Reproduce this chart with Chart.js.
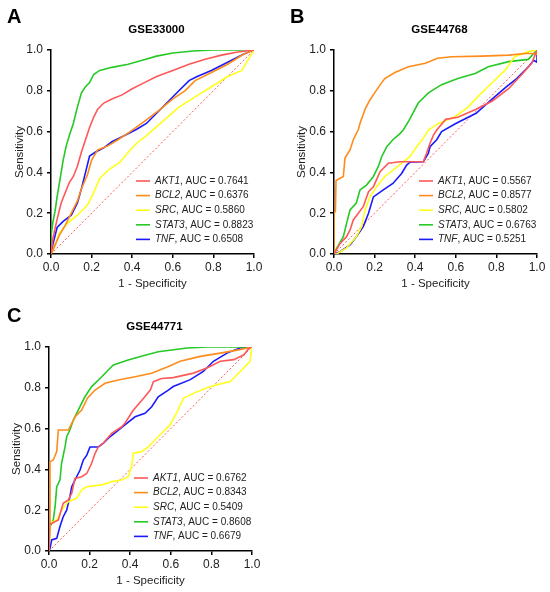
<!DOCTYPE html>
<html>
<head>
<meta charset="utf-8">
<script src="https://cdn.jsdelivr.net/npm/chart.js@4.4.1/dist/chart.umd.min.js"></script>
<style>
  html, body { margin: 0; padding: 0; background: #fff; }
  #wrap { position: relative; width: 550px; height: 592px; }
  canvas { position: absolute; }
</style>
</head>
<body>
<div id="wrap">
  <canvas id="chartA" width="275" height="295" style="left:0;top:0"></canvas>
  <canvas id="chartB" width="275" height="295" style="left:275px;top:0"></canvas>
  <canvas id="chartC" width="275" height="297" style="left:0;top:295px"></canvas>
</div>
<script>
// Genes, colours and ticks
const genes = ["AKT1", "BCL2", "SRC", "STAT3", "TNF"];
const colors = ["#FF5858", "#FF8C1A", "#FFFF1A", "#26C926", "#1A1AFF"];
const tickValues = [0, 0.2, 0.4, 0.6, 0.8, 1.0];
const tickLabels = ["0.0", "0.2", "0.4", "0.6", "0.8", "1.0"];
const diagonal = [[0, 0], [1, 1]];

// GSE33000
const titleA = "GSE33000";
const aucA = [0.7641, 0.6376, 0.5860, 0.8823, 0.6508];
const akt1A = [[0,0],[0.01,0.08],[0.03,0.17],[0.05,0.25],[0.07,0.3],[0.09,0.35],[0.11,0.38],[0.13,0.43],[0.15,0.5],[0.17,0.56],[0.19,0.62],[0.21,0.67],[0.23,0.71],[0.26,0.74],[0.3,0.76],[0.35,0.78],[0.4,0.81],[0.46,0.84],[0.52,0.87],[0.6,0.9],[0.68,0.93],[0.76,0.955],[0.84,0.975],[0.92,0.99],[1,1]];
const bcl2A = [[0,0],[0.01,0.02],[0.04,0.09],[0.07,0.14],[0.1,0.2],[0.13,0.26],[0.15,0.32],[0.18,0.39],[0.2,0.46],[0.23,0.51],[0.28,0.53],[0.33,0.56],[0.39,0.6],[0.46,0.65],[0.54,0.71],[0.6,0.76],[0.66,0.8],[0.71,0.85],[0.79,0.89],[0.87,0.93],[0.95,0.98],[1,1]];
const srcA = [[0,0],[0.02,0.04],[0.04,0.1],[0.08,0.15],[0.13,0.19],[0.18,0.24],[0.21,0.3],[0.24,0.37],[0.28,0.41],[0.34,0.45],[0.39,0.51],[0.43,0.55],[0.47,0.58],[0.55,0.65],[0.63,0.72],[0.71,0.77],[0.79,0.82],[0.87,0.87],[0.94,0.9],[0.97,0.95],[1,1]];
const stat3A = [[0,0],[0,0.09],[0.01,0.16],[0.02,0.21],[0.03,0.28],[0.045,0.37],[0.06,0.46],[0.075,0.53],[0.09,0.58],[0.11,0.64],[0.13,0.72],[0.15,0.79],[0.17,0.82],[0.19,0.84],[0.21,0.88],[0.24,0.9],[0.3,0.915],[0.38,0.93],[0.45,0.95],[0.52,0.97],[0.6,0.985],[0.7,0.995],[0.8,1],[1,1]];
const tnfA = [[0,0],[0.01,0.05],[0.03,0.13],[0.06,0.16],[0.1,0.19],[0.13,0.25],[0.15,0.32],[0.17,0.4],[0.19,0.48],[0.22,0.5],[0.26,0.52],[0.3,0.55],[0.36,0.58],[0.42,0.61],[0.47,0.64],[0.53,0.7],[0.58,0.75],[0.63,0.8],[0.68,0.85],[0.72,0.87],[0.79,0.9],[0.87,0.94],[0.95,0.98],[1,1]];

// GSE44768
const titleB = "GSE44768";
const aucB = [0.5567, 0.8577, 0.5802, 0.6763, 0.5251];
const akt1B = [[0,0],[0.03,0.052],[0.062,0.085],[0.079,0.118],[0.095,0.167],[0.144,0.232],[0.17,0.305],[0.194,0.33],[0.227,0.403],[0.268,0.445],[0.325,0.452],[0.44,0.452],[0.456,0.494],[0.473,0.543],[0.49,0.583],[0.506,0.608],[0.55,0.66],[0.61,0.67],[0.7,0.71],[0.78,0.75],[0.86,0.81],[0.925,0.88],[0.974,0.935],[1,1]];
const bcl2B = [[0,0],[0,0.2],[0.007,0.21],[0.01,0.36],[0.046,0.38],[0.054,0.47],[0.079,0.51],[0.095,0.56],[0.12,0.61],[0.128,0.64],[0.153,0.71],[0.177,0.755],[0.2,0.79],[0.235,0.84],[0.25,0.86],[0.3,0.89],[0.366,0.918],[0.45,0.935],[0.51,0.96],[0.58,0.967],[0.73,0.97],[0.86,0.975],[0.957,0.984],[1,0.98],[1,1]];
const srcB = [[0,0],[0.013,0],[0.062,0.03],[0.11,0.085],[0.136,0.134],[0.153,0.216],[0.177,0.28],[0.21,0.33],[0.25,0.38],[0.29,0.41],[0.333,0.445],[0.374,0.477],[0.407,0.526],[0.44,0.567],[0.465,0.608],[0.514,0.64],[0.596,0.673],[0.66,0.72],[0.727,0.79],[0.777,0.837],[0.842,0.9],[0.89,0.967],[0.957,0.992],[1,1]];
const stat3B = [[0,0],[0.013,0.028],[0.046,0.085],[0.062,0.15],[0.079,0.216],[0.11,0.25],[0.128,0.314],[0.16,0.338],[0.194,0.38],[0.218,0.428],[0.235,0.477],[0.26,0.526],[0.29,0.56],[0.325,0.59],[0.341,0.608],[0.37,0.655],[0.415,0.74],[0.465,0.79],[0.53,0.83],[0.61,0.86],[0.695,0.885],[0.76,0.918],[0.86,0.943],[0.957,0.954],[1,1]];
const tnfB = [[0,0],[0.03,0.011],[0.079,0.044],[0.11,0.085],[0.144,0.134],[0.17,0.2],[0.194,0.28],[0.243,0.314],[0.29,0.346],[0.333,0.395],[0.358,0.436],[0.374,0.45],[0.44,0.452],[0.465,0.494],[0.473,0.526],[0.506,0.56],[0.53,0.6],[0.6,0.64],[0.7,0.69],[0.78,0.76],[0.85,0.82],[0.9,0.86],[0.96,0.92],[0.984,0.95],[1,0.94],[1,1]];

// GSE44771
const titleC = "GSE44771";
const aucC = [0.6762, 0.8343, 0.5409, 0.8608, 0.6679];
const akt1C = [[0,0],[0,0.13],[0.013,0.135],[0.046,0.152],[0.07,0.234],[0.095,0.25],[0.112,0.283],[0.128,0.356],[0.161,0.364],[0.186,0.38],[0.21,0.43],[0.227,0.479],[0.243,0.51],[0.267,0.528],[0.309,0.577],[0.358,0.609],[0.374,0.626],[0.415,0.69],[0.465,0.748],[0.5,0.79],[0.514,0.83],[0.555,0.846],[0.612,0.85],[0.712,0.872],[0.778,0.897],[0.844,0.93],[0.91,0.938],[0.96,0.962],[0.99,1],[1,1]];
const bcl2C = [[0,0],[0.005,0.1],[0.005,0.438],[0.021,0.446],[0.038,0.487],[0.046,0.593],[0.095,0.593],[0.112,0.626],[0.13,0.66],[0.161,0.691],[0.19,0.75],[0.227,0.789],[0.276,0.822],[0.341,0.838],[0.424,0.854],[0.506,0.871],[0.588,0.904],[0.646,0.93],[0.745,0.954],[0.844,0.97],[0.94,0.987],[1,1]];
const srcC = [[0,0],[0.005,0.136],[0.038,0.152],[0.062,0.2],[0.095,0.242],[0.136,0.258],[0.161,0.3],[0.186,0.315],[0.26,0.324],[0.309,0.34],[0.358,0.348],[0.39,0.364],[0.407,0.413],[0.415,0.479],[0.456,0.487],[0.489,0.51],[0.522,0.544],[0.555,0.577],[0.596,0.618],[0.63,0.68],[0.663,0.75],[0.728,0.78],[0.778,0.8],[0.827,0.815],[0.893,0.831],[0.942,0.88],[0.99,0.93],[1,1]];
const stat3C = [[0,0],[0,0.11],[0.021,0.152],[0.03,0.217],[0.038,0.315],[0.054,0.348],[0.062,0.43],[0.079,0.51],[0.087,0.56],[0.103,0.593],[0.12,0.642],[0.144,0.691],[0.177,0.756],[0.21,0.806],[0.26,0.854],[0.292,0.887],[0.317,0.912],[0.39,0.936],[0.473,0.96],[0.538,0.977],[0.68,0.995],[0.78,1],[1,1]];
const tnfC = [[0,0],[0.005,0.013],[0.013,0.054],[0.038,0.062],[0.054,0.12],[0.07,0.168],[0.087,0.2],[0.103,0.266],[0.112,0.315],[0.128,0.348],[0.153,0.397],[0.169,0.446],[0.186,0.47],[0.202,0.51],[0.243,0.51],[0.267,0.528],[0.3,0.56],[0.333,0.585],[0.374,0.618],[0.424,0.658],[0.473,0.675],[0.506,0.707],[0.538,0.756],[0.588,0.789],[0.612,0.806],[0.696,0.84],[0.76,0.88],[0.81,0.93],[0.877,0.97],[0.94,0.995],[1,1]];

const family = '"Liberation Sans", Arial, Helvetica, sans-serif';
Chart.defaults.font.family = family;
Chart.defaults.color = "#222";

// Letra do painel, titulo e legenda com nome do gene em italico
const panelText = {
  id: "panelText",
  afterDraw(chart, args, opts) {
    const ctx = chart.ctx;
    const a = chart.chartArea;
    ctx.save();
    ctx.fillStyle = "#000";
    ctx.textAlign = "left";
    ctx.textBaseline = "alphabetic";
    ctx.font = "bold 20px " + family;
    ctx.fillText(opts.letter, opts.letterX, opts.letterY);

    ctx.textAlign = "center";
    ctx.textBaseline = "middle";
    ctx.font = "bold 11.5px " + family;
    ctx.fillText(opts.title, (a.left + a.right) / 2 + 4, a.top - 20);

    ctx.textAlign = "left";
    opts.auc.forEach(function (v, i) {
      const y = a.top + 131 + i * 14.6;
      ctx.strokeStyle = colors[i];
      ctx.lineWidth = 1.6;
      ctx.beginPath();
      ctx.moveTo(a.left + 85, y);
      ctx.lineTo(a.left + 99, y);
      ctx.stroke();
      let x = a.left + 104;
      ctx.fillStyle = "#222";
      ctx.font = "italic 10px " + family;
      ctx.fillText(genes[i], x, y);
      x += ctx.measureText(genes[i]).width;
      ctx.font = "10px " + family;
      ctx.fillText(", AUC = " + v.toFixed(4), x, y);
    });
    ctx.restore();
  }
};

function axis(pos, text, size, titlePad) {
  return {
    type: "linear",
    min: 0,
    max: 1,
    afterFit(s) {
      if (pos === "left") s.width = size; else s.height = size;
    },
    afterBuildTicks(s) {
      s.ticks = tickValues.map(v => ({ value: v }));
    },
    ticks: {
      autoSkip: false,
      maxRotation: 0,
      padding: pos === "left" ? 4 : 2,
      font: { size: 12 },
      color: "#222",
      callback: v => tickLabels[tickValues.indexOf(v)]
    },
    grid: { drawOnChartArea: false, drawTicks: true, tickLength: 4, color: "#000", lineWidth: 1.5 },
    border: { display: true, color: "#000", width: 1.5 },
    title: {
      display: true,
      text: text,
      font: { size: 11.5 },
      color: "#222",
      padding: pos === "left" ? { top: titlePad, bottom: 0 } : { top: 0, bottom: titlePad }
    }
  };
}

function makeChart(id, p) {
  const sets = p.curves.map((c, i) => ({
    label: genes[i],
    data: c,
    borderColor: colors[i],
    borderWidth: 1.6,
    pointRadius: 0,
    tension: 0,
    fill: false
  }));
  sets.push({
    label: "ref",
    data: diagonal,
    borderColor: "#FF5858",
    borderWidth: 1,
    borderDash: [2, 2],
    pointRadius: 0,
    fill: false
  });
  return new Chart(id, {
    type: "line",
    data: { datasets: sets },
    plugins: [panelText],
    options: {
      responsive: false,
      animation: false,
      layout: { padding: p.pad },
      scales: {
        x: axis("bottom", "1 - Specificity", p.xh, p.xPad),
        y: axis("left", "Sensitivity", p.yw, p.yPad)
      },
      plugins: {
        legend: { display: false },
        tooltip: { enabled: false },
        panelText: { letter: p.letter, letterX: p.lx, letterY: p.ly, title: p.title, auc: p.auc }
      }
    }
  });
}

makeChart("chartA", {
  curves: [akt1A, bcl2A, srcA, stat3A, tnfA], auc: aucA, title: titleA,
  letter: "A", lx: 7, ly: 23,
  pad: { left: 0, top: 50, right: 21, bottom: 0 }, yw: 51, xh: 41, yPad: 13, xPad: 4
});
makeChart("chartB", {
  curves: [akt1B, bcl2B, srcB, stat3B, tnfB], auc: aucB, title: titleB,
  letter: "B", lx: 15, ly: 23,
  pad: { left: 0, top: 50, right: 13, bottom: 0 }, yw: 59, xh: 41, yPad: 20.4, xPad: 4
});
makeChart("chartC", {
  curves: [akt1C, bcl2C, srcC, stat3C, tnfC], auc: aucC, title: titleC,
  letter: "C", lx: 7, ly: 27,
  pad: { left: 0, top: 52, right: 23, bottom: 0 }, yw: 49, xh: 41, yPad: 10.4, xPad: 4.4
});
</script>
</body>
</html>
